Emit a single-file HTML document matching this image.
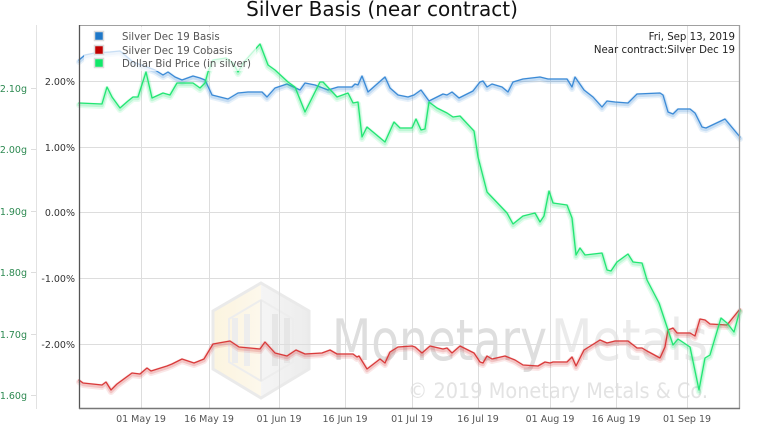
<!DOCTYPE html>
<html><head><meta charset="utf-8"><style>
html,body{margin:0;padding:0;background:#fff;}
svg{display:block;font-family:"DejaVu Sans","Liberation Sans",sans-serif;}
</style></head><body>
<svg width="765" height="425" viewBox="0 0 765 425" xmlns="http://www.w3.org/2000/svg">
<defs>
<linearGradient id="lg" x1="0" y1="0" x2="1" y2="0">
<stop offset="0" stop-color="#fbf3dc"/><stop offset="0.5" stop-color="#fdf8ea"/><stop offset="0.5" stop-color="#f4f4f4"/><stop offset="1" stop-color="#ebebeb"/>
</linearGradient>
</defs>
<rect width="765" height="425" fill="#fff"/>
<text x="382" y="16" font-size="20" text-anchor="middle" fill="#111">Silver Basis (near contract)</text>

<!-- watermark -->
<g opacity="0.9">
<polygon points="261,283 309,311 309,369 261,398 213,369 213,311" fill="url(#lg)" stroke="#e8e8e8" stroke-width="3"/>
<polygon points="261,300 293,319 293,362 261,381 229,362 229,319" fill="none" stroke="#ececec" stroke-width="2"/>
<rect x="232" y="318" width="6" height="45" fill="#ececec"/>
<rect x="244" y="314" width="6" height="52" fill="#ececec"/>
<rect x="272" y="314" width="6" height="52" fill="#e4e4e4"/>
<rect x="284" y="318" width="6" height="45" fill="#e4e4e4"/>
<line x1="261" y1="300" x2="261" y2="381" stroke="#e6e6e6" stroke-width="2"/>
</g>
<text x="332" y="360" font-size="57" fill="#dedede" textLength="215" lengthAdjust="spacingAndGlyphs">Monetary</text>
<text x="551" y="360" font-size="57" fill="#ebebeb" textLength="157" lengthAdjust="spacingAndGlyphs">Metals</text>
<text x="408" y="398" font-size="21" fill="#e3e3e3" textLength="300" lengthAdjust="spacingAndGlyphs">© 2019 Monetary Metals &amp; Co.</text>

<!-- grid -->
<g stroke="#dddddd" stroke-width="1">
<line x1="141.5" y1="25" x2="141.5" y2="409"/>
<line x1="209.5" y1="25" x2="209.5" y2="409"/>
<line x1="279.5" y1="25" x2="279.5" y2="409"/>
<line x1="345.5" y1="25" x2="345.5" y2="409"/>
<line x1="412.5" y1="25" x2="412.5" y2="409"/>
<line x1="478.5" y1="25" x2="478.5" y2="409"/>
<line x1="550.5" y1="25" x2="550.5" y2="409"/>
<line x1="616.5" y1="25" x2="616.5" y2="409"/>
<line x1="687.5" y1="25" x2="687.5" y2="409"/>
<line x1="79" y1="81.5" x2="740" y2="81.5"/>
<line x1="79" y1="147.5" x2="740" y2="147.5"/>
<line x1="79" y1="212.5" x2="740" y2="212.5"/>
<line x1="79" y1="278.5" x2="740" y2="278.5"/>
<line x1="79" y1="344.5" x2="740" y2="344.5"/>
</g>

<!-- gram axis -->
<line x1="36.5" y1="25" x2="36.5" y2="409" stroke="#e2e2e2"/>
<g stroke="#dddddd">
<line x1="31" y1="88.5" x2="36" y2="88.5"/>
<line x1="31" y1="149.5" x2="36" y2="149.5"/>
<line x1="31" y1="211.5" x2="36" y2="211.5"/>
<line x1="31" y1="272.5" x2="36" y2="272.5"/>
<line x1="31" y1="334.5" x2="36" y2="334.5"/>
<line x1="31" y1="395.5" x2="36" y2="395.5"/>
</g>
<g font-size="9.5" fill="#2e8a52" text-anchor="end">
<text x="27" y="92">2.10g</text>
<text x="27" y="153">2.00g</text>
<text x="27" y="215">1.90g</text>
<text x="27" y="276">1.80g</text>
<text x="27" y="338">1.70g</text>
<text x="27" y="399">1.60g</text>
</g>
<g font-size="9.5" fill="#333" text-anchor="end">
<text x="75" y="85">2.00%</text>
<text x="75" y="151">1.00%</text>
<text x="75" y="216">0.00%</text>
<text x="75" y="282">-1.00%</text>
<text x="75" y="348">-2.00%</text>
</g>
<g font-size="9.5" fill="#555" text-anchor="middle">
<text x="141" y="422">01 May 19</text>
<text x="209" y="422">16 May 19</text>
<text x="279" y="422">01 Jun 19</text>
<text x="345" y="422">16 Jun 19</text>
<text x="412" y="422">01 Jul 19</text>
<text x="478" y="422">16 Jul 19</text>
<text x="550" y="422">01 Aug 19</text>
<text x="616" y="422">16 Aug 19</text>
<text x="687" y="422">01 Sep 19</text>
</g>

<!-- series -->
<g fill="none" stroke-linejoin="round" stroke-linecap="round">
<g stroke="#3b8ad6">
<polyline opacity="0.12" stroke-width="6" transform="translate(0,2)" points="79,60 85,55 95,53 110,52 120,51 133,62 147,67 155,70 163,75 168,72 175,77 182,80 193,76 200,78 205,80 212,95 228,99 238,93 248,92 262,92 267,97 275,88 287,84 300,90 305,83 315,85 328,90 338,87 352,87 355,84 358,85 362,76 368,92 385,77 390,88 398,95 408,97 414,95 421,90 429,101 443,94 447,95 452,92 459,98 473,91 480,82 483,81 487,87 492,84 502,87 508,92 513,82 523,79 540,77 548,79 567,79 572,87 575,77 584,90 593,97 602,107 607,101 615,102 628,103 637,94 660,93 663,95 668,112 673,114 678,109 690,109 695,113 702,127 706,128 725,119 740,137"/>
<polyline opacity="0.2" stroke-width="3.5" transform="translate(0,1.5)" points="79,60 85,55 95,53 110,52 120,51 133,62 147,67 155,70 163,75 168,72 175,77 182,80 193,76 200,78 205,80 212,95 228,99 238,93 248,92 262,92 267,97 275,88 287,84 300,90 305,83 315,85 328,90 338,87 352,87 355,84 358,85 362,76 368,92 385,77 390,88 398,95 408,97 414,95 421,90 429,101 443,94 447,95 452,92 459,98 473,91 480,82 483,81 487,87 492,84 502,87 508,92 513,82 523,79 540,77 548,79 567,79 572,87 575,77 584,90 593,97 602,107 607,101 615,102 628,103 637,94 660,93 663,95 668,112 673,114 678,109 690,109 695,113 702,127 706,128 725,119 740,137"/>
<polyline stroke-width="1.3" points="79,60 85,55 95,53 110,52 120,51 133,62 147,67 155,70 163,75 168,72 175,77 182,80 193,76 200,78 205,80 212,95 228,99 238,93 248,92 262,92 267,97 275,88 287,84 300,90 305,83 315,85 328,90 338,87 352,87 355,84 358,85 362,76 368,92 385,77 390,88 398,95 408,97 414,95 421,90 429,101 443,94 447,95 452,92 459,98 473,91 480,82 483,81 487,87 492,84 502,87 508,92 513,82 523,79 540,77 548,79 567,79 572,87 575,77 584,90 593,97 602,107 607,101 615,102 628,103 637,94 660,93 663,95 668,112 673,114 678,109 690,109 695,113 702,127 706,128 725,119 740,137"/>
</g>
<g stroke="#d93a3a">
<polyline opacity="0.12" stroke-width="6" transform="translate(0,2)" points="79,380 83,383 102,385 106,382 111,390 117,384 132,373 140,374 147,368 151,371 167,366 172,364 182,359 194,363 204,359 213,344 230,341 239,347 260,349 265,342 275,353 287,356 296,350 305,354 322,353 330,350 337,354 353,354 357,357 359,356 367,369 380,359 385,363 390,352 398,347 412,346 415,347 422,353 430,346 443,349 447,348 452,353 460,346 474,353 480,362 483,363 487,356 492,359 505,356 515,360 523,365 538,366 545,362 550,363 553,362 567,362 572,357 576,366 584,350 600,340 607,343 615,341 628,341 637,348 642,348 647,351 660,358 665,347 668,330 673,328 677,333 690,333 695,336 700,319 705,320 710,324 727,325 740,309"/>
<polyline opacity="0.2" stroke-width="3.5" transform="translate(0,1.5)" points="79,380 83,383 102,385 106,382 111,390 117,384 132,373 140,374 147,368 151,371 167,366 172,364 182,359 194,363 204,359 213,344 230,341 239,347 260,349 265,342 275,353 287,356 296,350 305,354 322,353 330,350 337,354 353,354 357,357 359,356 367,369 380,359 385,363 390,352 398,347 412,346 415,347 422,353 430,346 443,349 447,348 452,353 460,346 474,353 480,362 483,363 487,356 492,359 505,356 515,360 523,365 538,366 545,362 550,363 553,362 567,362 572,357 576,366 584,350 600,340 607,343 615,341 628,341 637,348 642,348 647,351 660,358 665,347 668,330 673,328 677,333 690,333 695,336 700,319 705,320 710,324 727,325 740,309"/>
<polyline stroke-width="1.3" points="79,380 83,383 102,385 106,382 111,390 117,384 132,373 140,374 147,368 151,371 167,366 172,364 182,359 194,363 204,359 213,344 230,341 239,347 260,349 265,342 275,353 287,356 296,350 305,354 322,353 330,350 337,354 353,354 357,357 359,356 367,369 380,359 385,363 390,352 398,347 412,346 415,347 422,353 430,346 443,349 447,348 452,353 460,346 474,353 480,362 483,363 487,356 492,359 505,356 515,360 523,365 538,366 545,362 550,363 553,362 567,362 572,357 576,366 584,350 600,340 607,343 615,341 628,341 637,348 642,348 647,351 660,358 665,347 668,330 673,328 677,333 690,333 695,336 700,319 705,320 710,324 727,325 740,309"/>
</g>
<g stroke="#22e673">
<polyline opacity="0.12" stroke-width="6" transform="translate(0,2)" points="79,103 102,104 107,87 112,97 120,108 128,101 133,97 138,97 146,72 152,98 163,93 170,95 177,83 193,83 200,88 205,83 208,72 213,60 226,58 233,63 238,72 244,62 260,44 268,65 275,70 288,82 295,87 305,112 320,82 323,82 337,97 348,93 353,103 358,102 362,137 367,127 385,142 394,122 400,128 412,128 416,119 421,130 425,129 429,102 437,108 447,113 453,117 460,116 474,131 478,157 487,192 507,213 513,224 523,216 535,213 540,222 544,216 549,191 553,203 567,205 572,218 576,255 580,248 585,255 602,253 607,270 611,271 617,262 628,254 633,262 642,263 647,280 659,303 673,345 678,339 690,347 699,390 705,358 710,355 721,318 727,323 734,332 740,310"/>
<polyline opacity="0.2" stroke-width="3.5" transform="translate(0,1.5)" points="79,103 102,104 107,87 112,97 120,108 128,101 133,97 138,97 146,72 152,98 163,93 170,95 177,83 193,83 200,88 205,83 208,72 213,60 226,58 233,63 238,72 244,62 260,44 268,65 275,70 288,82 295,87 305,112 320,82 323,82 337,97 348,93 353,103 358,102 362,137 367,127 385,142 394,122 400,128 412,128 416,119 421,130 425,129 429,102 437,108 447,113 453,117 460,116 474,131 478,157 487,192 507,213 513,224 523,216 535,213 540,222 544,216 549,191 553,203 567,205 572,218 576,255 580,248 585,255 602,253 607,270 611,271 617,262 628,254 633,262 642,263 647,280 659,303 673,345 678,339 690,347 699,390 705,358 710,355 721,318 727,323 734,332 740,310"/>
<polyline stroke-width="1.3" points="79,103 102,104 107,87 112,97 120,108 128,101 133,97 138,97 146,72 152,98 163,93 170,95 177,83 193,83 200,88 205,83 208,72 213,60 226,58 233,63 238,72 244,62 260,44 268,65 275,70 288,82 295,87 305,112 320,82 323,82 337,97 348,93 353,103 358,102 362,137 367,127 385,142 394,122 400,128 412,128 416,119 421,130 425,129 429,102 437,108 447,113 453,117 460,116 474,131 478,157 487,192 507,213 513,224 523,216 535,213 540,222 544,216 549,191 553,203 567,205 572,218 576,255 580,248 585,255 602,253 607,270 611,271 617,262 628,254 633,262 642,263 647,280 659,303 673,345 678,339 690,347 699,390 705,358 710,355 721,318 727,323 734,332 740,310"/>
</g>
</g>

<!-- plot border -->
<line x1="79" y1="25.5" x2="740" y2="25.5" stroke="#a0a0a0"/>
<line x1="739.5" y1="25" x2="739.5" y2="409" stroke="#a0a0a0" stroke-width="1.3"/>
<line x1="79.5" y1="25" x2="79.5" y2="409" stroke="#555" stroke-width="1.3"/>
<line x1="79" y1="408.5" x2="740" y2="408.5" stroke="#777" stroke-width="1.5"/>

<!-- legend -->
<rect x="84" y="27" width="172" height="44" fill="#fff" opacity="0.72"/>
<rect x="94.5" y="31.5" width="9" height="9" fill="#1f78c8" stroke="#dcdcdc" stroke-width="1.5"/>
<rect x="94.5" y="45.5" width="9" height="9" fill="#c00000" stroke="#dcdcdc" stroke-width="1.5"/>
<rect x="94.5" y="58.5" width="9" height="9" fill="#11e86a" stroke="#dcdcdc" stroke-width="1.5"/>
<g font-size="10.2" fill="#555">
<text x="122" y="40">Silver Dec 19 Basis</text>
<text x="122" y="54">Silver Dec 19 Cobasis</text>
<text x="122" y="67">Dollar Bid Price (in silver)</text>
</g>
<g font-size="10.2" fill="#222" text-anchor="end">
<text x="735" y="40">Fri, Sep 13, 2019</text>
<text x="735" y="53">Near contract:Silver Dec 19</text>
</g>
</svg>
</body></html>
